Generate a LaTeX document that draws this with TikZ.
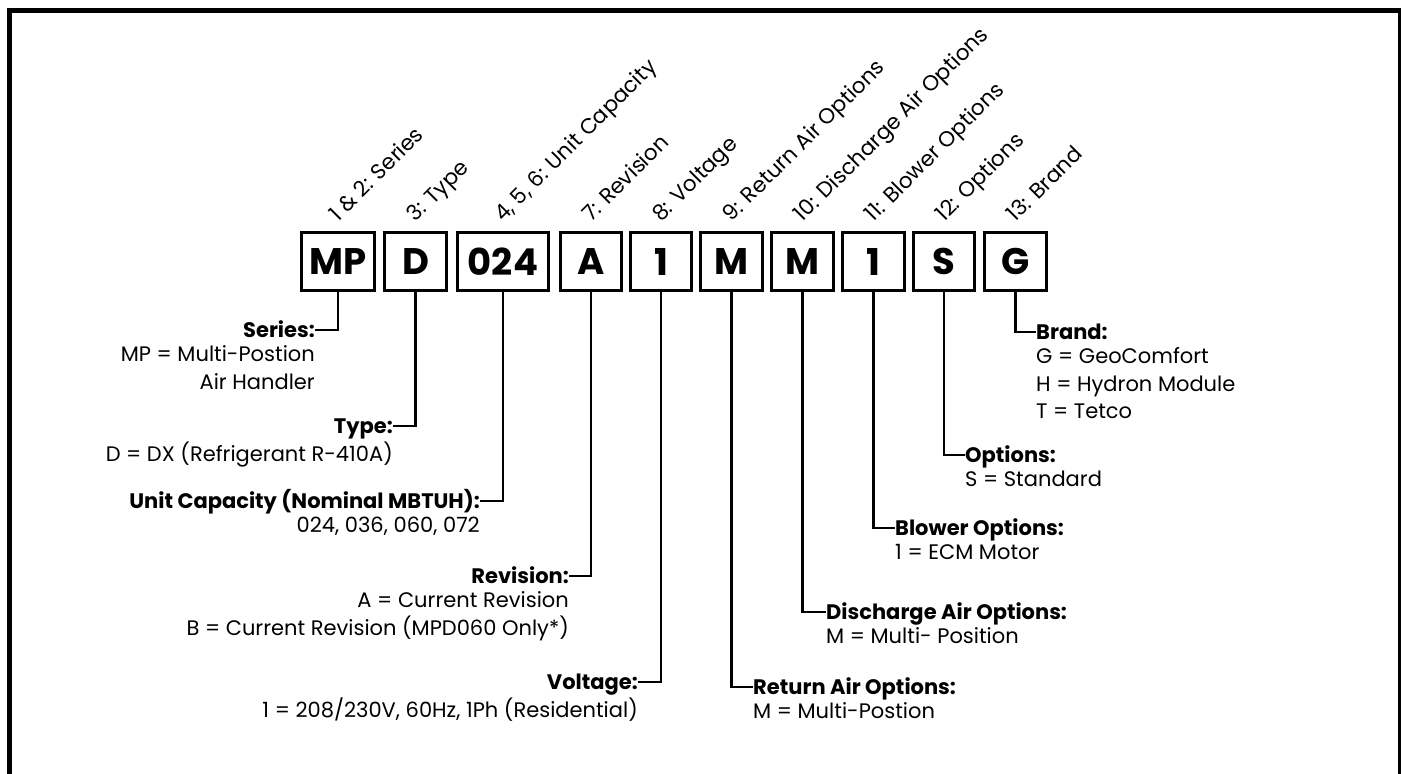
\documentclass[tikz,border=0pt]{standalone}
\usepackage{fontspec}
\setmainfont{Poppins}

\tikzset{
  charbox/.style={draw, line width=2.8pt, minimum height=58pt, inner sep=0pt, font=\fontsize{37}{40}\selectfont\bfseries},
  slant/.style={rotate=45, anchor=base west, inner sep=0pt, font=\fontsize{21.5}{24}\selectfont},
  head/.style={inner sep=0pt, text height=15pt, text depth=0pt, font=\fontsize{21}{24}\selectfont\bfseries},
  desc/.style={inner sep=0pt, font=\fontsize{21}{27.5}\selectfont},
  lead/.style={line width=2.4pt},
}

\begin{document}
\begin{tikzpicture}[x=1pt, y=-1pt]
  \useasboundingbox (0,0) rectangle (1401,774);

  % Outer frame (open at the bottom)
  \begin{scope}
    \clip (0,0) rectangle (1401,774);
    \draw[line width=5pt] (9.5,10.5) rectangle (1400.5,800);
  \end{scope}

  % Model number boxes and their position labels
  \foreach \nm/\x/\w/\code/\lbl in {
      bseries/338/73/MP/{1 \& 2: Series},
      btype/415.5/62/D/{3: Type},
      bcap/503/91/024/{4, 5, 6: Unit Capacity},
      brev/591/61/A/{7: Revision},
      bvolt/661/61/1/{8: Voltage},
      bret/731.5/62/M/{9: Return Air Options},
      bdis/802.5/62/M/{10: Discharge Air Options},
      bblow/873.5/62/1/{11: Blower Options},
      bopt/944/61/S/{12: Options},
      bbrand/1015.5/62/G/{13: Brand}} {
    \node[charbox, minimum width=\w pt] (\nm) at (\x,261.5) {\code};
    \node[slant] (\nm-lbl) at (\x,223) {\lbl};
  }

  % Left hand descriptions
  \node[head, anchor=east] (series) at (315,330) {Series:};
  \node[desc, anchor=north east, align=right] (series-txt) at ([yshift=-8pt]series.south east) {MP = Multi-Postion\\Air Handler};

  \node[head, anchor=east] (type) at (393,426) {Type:};
  \node[desc, anchor=north east, align=right] (type-txt) at ([yshift=-8pt]type.south east) {D = DX (Refrigerant R-410A)};

  \node[head, anchor=east] (unitcap) at (480,501) {Unit Capacity (Nominal MBTUH):};
  \node[desc, anchor=north east, align=right] (unitcap-txt) at ([yshift=-8pt]unitcap.south east) {024, 036, 060, 072};

  \node[head, anchor=east] (revision) at (569,576) {Revision:};
  \node[desc, anchor=north east, align=right] (revision-txt) at ([yshift=-8pt]revision.south east) {A = Current Revision\\B = Current Revision (MPD060 Only*)};

  \node[head, anchor=east] (voltage) at (638,682) {Voltage:};
  \node[desc, anchor=north east, align=right] (voltage-txt) at ([yshift=-8pt]voltage.south east) {1 = 208/230V, 60Hz, 1Ph (Residential)};

  % Right hand descriptions
  \node[head, anchor=west] (brand) at (1036,332) {Brand:};
  \node[desc, anchor=north west, align=left] (brand-txt) at ([yshift=-8pt]brand.south west) {G = GeoComfort\\H = Hydron Module\\T = Tetco};

  \node[head, anchor=west] (options) at (965,455) {Options:};
  \node[desc, anchor=north west, align=left] (options-txt) at ([yshift=-8pt]options.south west) {S = Standard};

  \node[head, anchor=west] (blower) at (895,528) {Blower Options:};
  \node[desc, anchor=north west, align=left] (blower-txt) at ([yshift=-8pt]blower.south west) {1 = ECM Motor};

  \node[head, anchor=west] (disair) at (826,612) {Discharge Air Options:};
  \node[desc, anchor=north west, align=left] (disair-txt) at ([yshift=-8pt]disair.south west) {M = Multi- Position};

  \node[head, anchor=west] (retair) at (753,687) {Return Air Options:};
  \node[desc, anchor=north west, align=left] (retair-txt) at ([yshift=-8pt]retair.south west) {M = Multi-Postion};

  % Leader lines
  \draw[lead] (bseries.south) |- (series.east);
  \draw[lead] (btype.south) |- (type.east);
  \draw[lead] (bcap.south) |- (unitcap.east);
  \draw[lead] (brev.south) |- (revision.east);
  \draw[lead] (bvolt.south) |- (voltage.east);
  \draw[lead] (bret.south) |- (retair.west);
  \draw[lead] (bdis.south) |- (disair.west);
  \draw[lead] (bblow.south) |- (blower.west);
  \draw[lead] (bopt.south) |- (options.west);
  \draw[lead] (bbrand.south) |- (brand.west);
\end{tikzpicture}
\end{document}
